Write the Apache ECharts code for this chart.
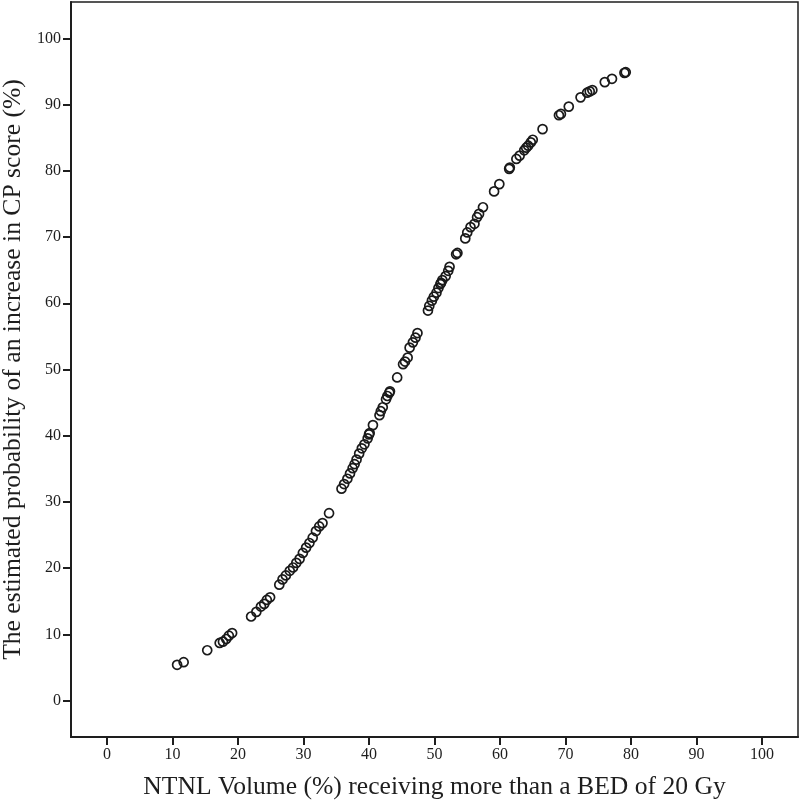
<!DOCTYPE html>
<html>
<head>
<meta charset="utf-8">
<script src="https://cdn.jsdelivr.net/npm/echarts@6/dist/echarts.min.js"></script>
<style>
html,body{margin:0;padding:0;background:#fff;}
#chart{width:800px;height:802px;}
</style>
</head>
<body>
<div id="chart"></div>
<script>
const xTicks = [0,10,20,30,40,50,60,70,80,90,100];
const yTicks = [0,10,20,30,40,50,60,70,80,90,100];
const xLabel = 'NTNL Volume (%) receiving more than a BED of 20 Gy';
const yLabel = 'The estimated probability of an increase in CP score (%)';
const volume = [
  10.7,11.7,15.3,17.2,17.7,18.2,18.6,19.1,22.0,22.8,23.5,24.0,24.4,24.9,
  26.3,26.8,27.3,27.9,28.4,28.9,29.4,29.9,30.4,30.9,31.4,31.9,32.4,32.9,33.9,
  35.8,36.2,36.7,37.1,37.5,37.8,38.1,38.5,38.9,39.3,39.8,40.0,40.1,40.6,
  41.6,41.8,42.1,42.6,42.8,43.1,43.2,44.3,45.2,45.5,45.9,46.2,46.7,47.1,47.4,
  49.0,49.2,49.6,49.9,50.3,50.6,50.9,51.0,51.2,51.7,52.1,52.3,53.3,53.5,
  54.7,55.0,55.5,56.1,56.5,56.8,57.4,59.1,59.9,61.4,61.5,62.5,63.0,63.7,
  64.0,64.3,64.7,65.0,66.5,69.0,69.3,70.5,72.3,73.3,73.7,74.1,76.0,77.1,79.0,79.2
];
const probability = [
  5.4,5.8,7.6,8.7,8.9,9.3,9.8,10.2,12.7,13.4,14.2,14.6,15.2,15.6,
  17.5,18.3,18.9,19.6,20.1,20.8,21.4,22.3,23.1,23.8,24.6,25.6,26.3,26.8,28.3,
  32.0,32.7,33.5,34.3,35.1,35.7,36.4,37.3,38.1,38.7,39.6,40.2,40.4,41.6,
  43.1,43.7,44.3,45.5,46.0,46.5,46.7,48.8,50.8,51.2,51.8,53.3,54.1,54.8,55.5,
  58.9,59.6,60.4,61.0,61.6,62.3,62.9,63.1,63.5,64.1,64.9,65.5,67.4,67.6,
  69.8,70.7,71.5,72.0,73.0,73.5,74.5,76.9,78.0,80.3,80.5,81.8,82.3,83.1,
  83.5,83.8,84.3,84.7,86.3,88.4,88.6,89.7,91.1,91.8,92.0,92.2,93.4,93.9,94.8,94.9
];
const points = volume.map((v, i) => [v, probability[i]]);
const serif = 'Liberation Serif';
const ink = '#1e1e1e';
const chart = echarts.init(document.getElementById('chart'), null, {renderer: 'canvas'});
chart.setOption({
  animation: false,
  backgroundColor: '#fff',
  grid: {left: 71, right: 2, top: 2, bottom: 65, show: true, borderColor: ink, borderWidth: 1.5, containLabel: false, outerBoundsMode: 'none'},
  xAxis: {
    type: 'value', min: -5.5, max: 105.5,
    name: xLabel, nameLocation: 'middle', nameGap: 37,
    nameTextStyle: {fontFamily: serif, fontSize: 25.6, color: ink},
    axisLine: {show: true, onZero: false, lineStyle: {color: ink, width: 2}},
    axisTick: {show: true, length: 8, lineStyle: {color: ink, width: 2}, customValues: xTicks},
    axisLabel: {fontFamily: serif, fontSize: 16, color: ink, margin: 10, customValues: xTicks},
    splitLine: {show: false}
  },
  yAxis: {
    type: 'value', min: -5.5, max: 105.5,
    name: yLabel, nameLocation: 'middle', nameGap: 40,
    nameTextStyle: {fontFamily: serif, fontSize: 25.6, color: ink},
    axisLine: {show: true, onZero: false, lineStyle: {color: ink, width: 2}},
    axisTick: {show: true, length: 8, lineStyle: {color: ink, width: 2}, customValues: yTicks},
    axisLabel: {fontFamily: serif, fontSize: 16, color: ink, margin: 10, customValues: yTicks},
    splitLine: {show: false}
  },
  series: [{
    type: 'scatter',
    data: points,
    symbol: 'circle',
    symbolSize: 9,
    itemStyle: {color: 'rgba(0,0,0,0)', borderColor: '#1a1a1a', borderWidth: 1.7, opacity: 1}
  }]
});
</script>
</body>
</html>
